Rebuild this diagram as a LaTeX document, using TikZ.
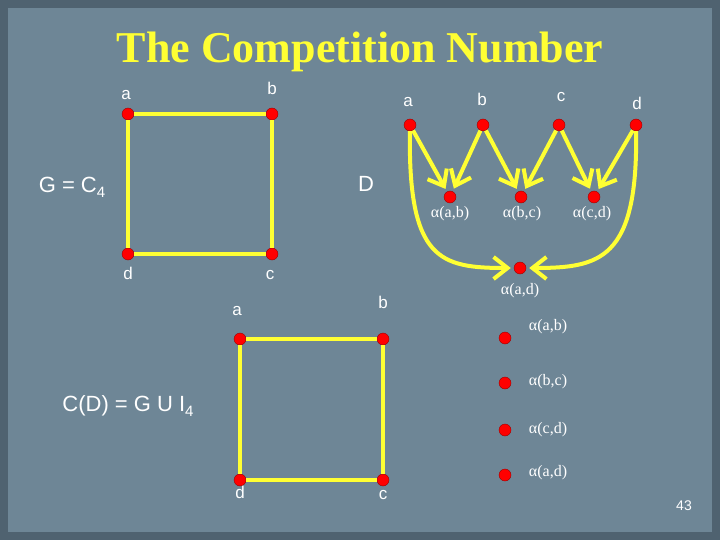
\documentclass[tikz,border=0pt]{standalone}
\usepackage{fontspec}
\setmainfont{Liberation Serif}
\newfontfamily\arial{Liberation Sans}
\usetikzlibrary{arrows.meta}
\definecolor{bgc}{HTML}{6E8696}
\definecolor{frm}{HTML}{4F6270}
\definecolor{yel}{HTML}{FFFF33}
\newcommand{\sbs}[1]{\raisebox{-0.4ex}{\fontsize{15}{15}\selectfont #1}}
\begin{document}
\begin{tikzpicture}[x=1pt,y=-1pt,
  vtx/.style={circle,fill=red,draw=red!60!black,line width=0.4pt,inner sep=0pt,minimum size=12pt},
  edg/.style={draw=yel,line width=3.5pt},
  arr/.style={draw=yel,line width=4pt,-{Straight Barb[length=14pt,width=22pt,line width=4pt]},shorten >=3pt},
  lbl/.style={font=\arial\fontsize{17}{18}\selectfont,text=white},
  albl/.style={font=\fontsize{16}{17}\selectfont,text=white}]
\fill[frm] (0,0) rectangle (720,540);
\fill[bgc] (8,8) rectangle (712,532);
\useasboundingbox (0,0) rectangle (720,540);
\node[font=\bfseries\fontsize{44}{46}\selectfont,text=yel] (title) at (360,52) {The Competition Number};
% G
\node[vtx] (ga) at (128,114) {}; \node[vtx] (gb) at (272,114) {};
\node[vtx] (gd) at (128,254) {}; \node[vtx] (gc) at (272,254) {};
\draw[edg] (ga)--(gb)--(gc)--(gd)--(ga);
\node[lbl] (la) at (126,95) {a}; \node[lbl] (lb) at (272,88) {b};
\node[lbl] (ld) at (128,273) {d}; \node[lbl] (lc) at (270,275) {c};
\node[font=\arial\fontsize{22}{24}\selectfont,text=white] (gl) at (72,187) {G = C\sbs{4}};
\node[font=\arial\fontsize{22}{24}\selectfont,text=white] (dl) at (366,184) {D};
% D
\node[vtx] (da) at (410,125) {}; \node[vtx] (db) at (483,125) {};
\node[vtx] (dc) at (559,125) {}; \node[vtx] (dd) at (636,125) {};
\node[lbl] at (408,102) {a}; \node[lbl] at (482,99) {b};
\node[lbl] at (561,97) {c}; \node[lbl] at (637,103) {d};
\node[vtx] (ab) at (450,197) {}; \node[vtx] (bc) at (521,197) {};
\node[vtx] (cd) at (594,197) {}; \node[vtx] (ad) at (520,268) {};
\node[albl] at (450,214) {α(a,b)}; \node[albl] at (522,214) {α(b,c)};
\node[albl] at (592,214) {α(c,d)}; \node[albl] at (520,291) {α(a,d)};
\draw[arr] (da)--(ab); \draw[arr] (db)--(ab);
\draw[arr] (db)--(bc); \draw[arr] (dc)--(bc);
\draw[arr] (dc)--(cd); \draw[arr] (dd)--(cd);
\draw[arr] (da) .. controls (408,260) and (440,268) .. (ad);
\draw[arr] (dd) .. controls (638,260) and (600,268) .. (ad);
% C(D)
\node[vtx] (ca) at (240,339) {}; \node[vtx] (cb) at (383,339) {};
\node[vtx] (cdd) at (240,480) {}; \node[vtx] (ccc) at (383,480) {};
\draw[edg] (ca)--(cb)--(ccc)--(cdd)--(ca);
\node[lbl] at (237,311) {a}; \node[lbl] at (383,302) {b};
\node[lbl] at (240,492) {d}; \node[lbl] at (383,495) {c};
\node[font=\arial\fontsize{22}{24}\selectfont,text=white] (cl) at (128,406) {C(D) = G U I\sbs{4}};
\node[vtx] (i1) at (505,338) {}; \node[vtx] (i2) at (505,383) {};
\node[vtx] (i3) at (505,430) {}; \node[vtx] (i4) at (505,475) {};
\node[albl] at (548,327) {α(a,b)}; \node[albl] at (548,382) {α(b,c)};
\node[albl] at (548,430) {α(c,d)}; \node[albl] at (548,473) {α(a,d)};
\node[font=\arial\fontsize{14}{15}\selectfont,text=white] (pg) at (684,506) {43};
\end{tikzpicture}
\end{document}
